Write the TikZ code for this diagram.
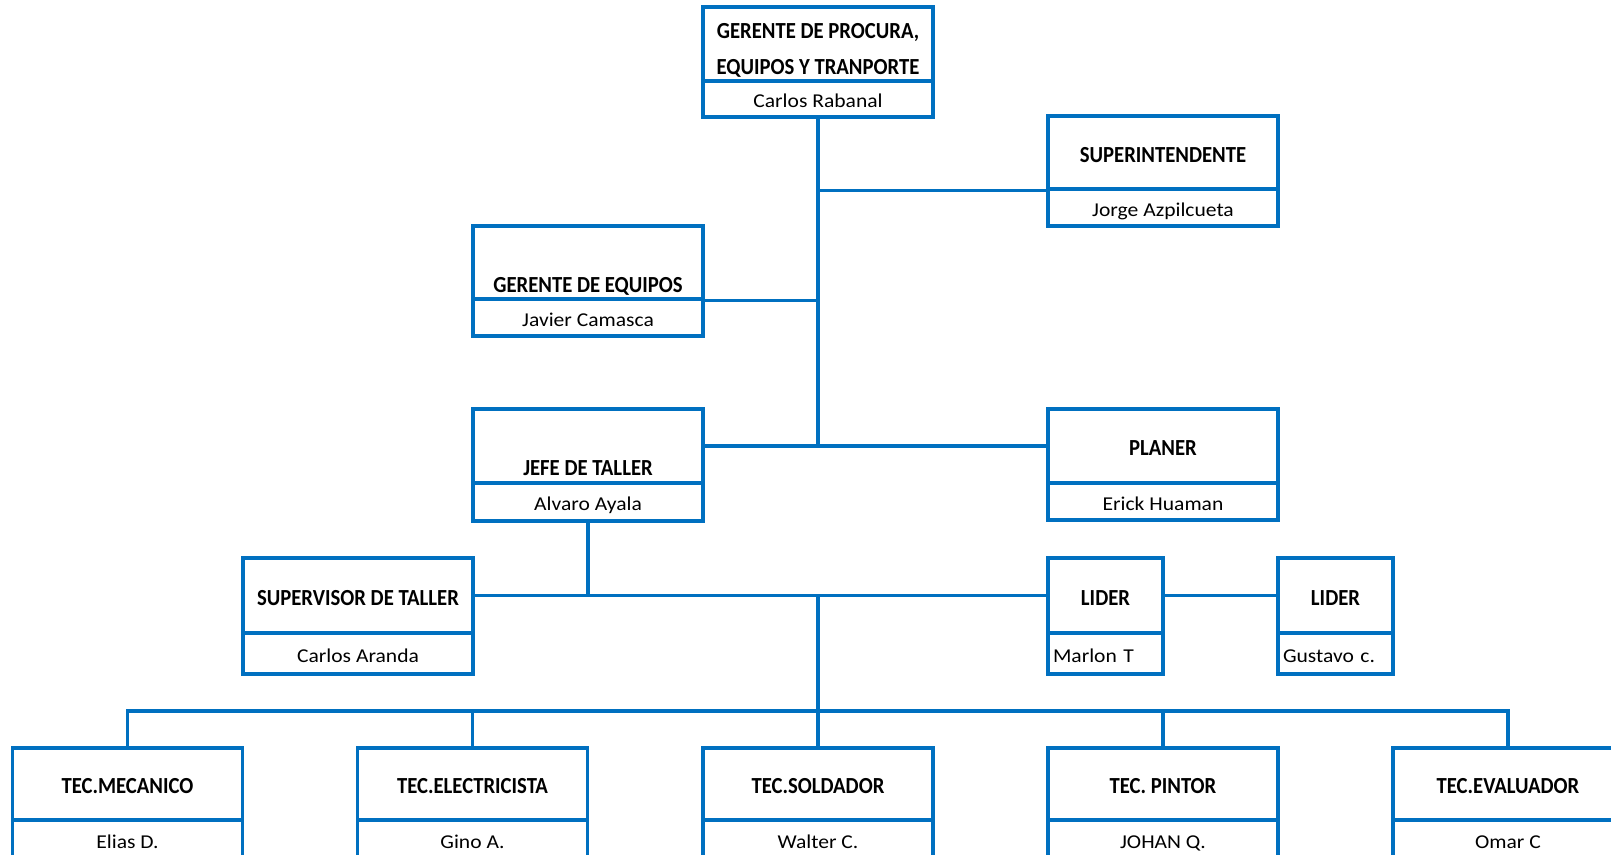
\documentclass[tikz,border=0pt]{standalone}
\usepackage{fontspec}
\setmainfont{Carlito}
\newfontfamily\titlefont[FakeStretch=0.9]{Carlito}
\newfontfamily\namefont[FakeStretch=1.1]{Carlito}
\definecolor{orgblue}{RGB}{0,112,192}

\tikzset{
  orgbox/.style={draw=orgblue, line width=1.6pt, rectangle, inner sep=0pt,
                 minimum width=115pt},
  orgtitle/.style={orgbox, font=\titlefont\bfseries\fontsize{11.5}{18}\selectfont,
                   text height=9.9pt, text depth=0pt},
  lowtitle/.style={orgtitle, text height=#1},
  orgname/.style={orgbox, font=\namefont\fontsize{9.8}{12}\selectfont,
                  text height=8.8pt, text depth=0pt},
  leftname/.style={orgname, text width=52.5pt, align=left, inner xsep=2.5pt,
                   minimum width=57.5pt},
  orglink/.style={draw=orgblue, line width=1.6pt}
}

\begin{document}
\begin{tikzpicture}[x=0.5pt,y=-0.5pt]

\useasboundingbox (0,0) rectangle (1611,855);
\clip (0,0) rectangle (1611,855);

% top of the chart
\node[orgbox, font=\titlefont\bfseries\fontsize{11.5}{18}\selectfont,
      align=center, minimum height=37pt] (gp) at (818,44)
      {\rule{0pt}{14.2pt}GERENTE DE PROCURA,\\EQUIPOS Y TRANPORTE};
\node[orgname, minimum height=18pt] (gpn) at (818,99) {Carlos Rabanal};

% staff reporting to the manager
\node[orgtitle, minimum height=36.5pt] (supt) at (1163,152.5) {SUPERINTENDENTE};
\node[orgname, minimum height=18.5pt] (suptn) at (1163,207.5) {Jorge Azpilcueta};

\node[lowtitle=30.4pt, minimum height=36.5pt] (ge) at (588,262.5) {GERENTE DE EQUIPOS};
\node[orgname, minimum height=18.5pt] (gen) at (588,317.5) {Javier Camasca};

\node[lowtitle=29.4pt, minimum height=37pt] (jefe) at (588,446) {JEFE DE TALLER};
\node[orgname, minimum height=19pt] (jefen) at (588,502) {Alvaro Ayala};

\node[orgtitle, minimum height=37pt] (plan) at (1163,446) {PLANER};
\node[orgname, minimum height=18.5pt] (plann) at (1163,501.5) {Erick Huaman};

% workshop level
\node[orgtitle, minimum height=37.5pt] (supv) at (358,595.5) {SUPERVISOR DE TALLER};
\node[orgname, minimum height=20.5pt] (supvn) at (358,653.5) {Carlos Aranda};

\node[orgtitle, minimum width=57.5pt, minimum height=37.5pt] (lid1) at (1105.5,595.5) {LIDER};
\node[leftname, minimum height=20.5pt] (lid1n) at (1105.5,653.5) {Marlon T};

\node[orgtitle, minimum width=57.5pt, minimum height=37.5pt] (lid2) at (1335.5,595.5) {LIDER};
\node[leftname, minimum height=20.5pt] (lid2n) at (1335.5,653.5) {Gustavo c.};

% technicians
\foreach \i/\x/\t/\n in {1/127.5/TEC.MECANICO/Elias D.,
                         2/472.5/TEC.ELECTRICISTA/Gino A.,
                         3/818/TEC.SOLDADOR/Walter C.,
                         4/1163/TEC. PINTOR/JOHAN Q.,
                         5/1508/TEC.EVALUADOR/Omar C}{
  \node[orgtitle, minimum height=36pt] (tec\i) at (\x,784) {\t};
  \node[orgname, minimum height=20pt] (tec\i n) at (\x,840) {\n};
}

% connectors
\coordinate (hub) at (gpn.south |- supv.east);
\coordinate (bus) at (818,711);

\draw[orglink] (gpn.south) -- (gpn.south |- jefe.east);
\draw[orglink] (gpn.south |- supt.south) -- (supt.south west);
\draw[orglink] (ge.south east) -- (ge.south east -| gpn.south);
\draw[orglink] (jefe.east) -- (plan.west);

\draw[orglink] (jefen.south) -- (jefen.south |- supv.east);
\draw[orglink] (supv.east) -- (lid1.west);
\draw[orglink] (lid1.east) -- (lid2.west);

\draw[orglink] (hub) -- (bus);
\draw[orglink] (tec1.north) -- (tec1.north |- bus) -- (tec5.north |- bus) -- (tec5.north);
\foreach \i in {2,3,4}{
  \draw[orglink] (tec\i.north) -- (tec\i.north |- bus);
}
\end{tikzpicture}
\end{document}
